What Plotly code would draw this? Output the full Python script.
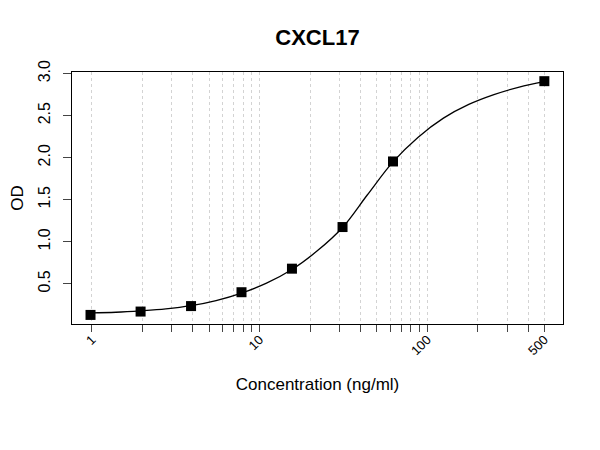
import plotly.graph_objects as go
import math

# Standard points (concentration ng/ml, OD)
conc = [0.98, 1.95, 3.9, 7.8, 15.6, 31.25, 62.5, 500]
od = [0.13, 0.17, 0.235, 0.40, 0.68, 1.175, 1.955, 2.91]

# Fitted curve
curve_x = [0.98, 1.39, 1.95, 2.76, 3.9, 5.5, 7.8, 11, 15.6, 22, 31.25, 44,
           62.5, 88, 125, 177, 250, 354, 500]
curve_y = [0.155, 0.162, 0.178, 0.201, 0.24, 0.301, 0.39, 0.508, 0.67,
           0.889, 1.17, 1.559, 1.95, 2.241, 2.47, 2.633, 2.75, 2.84, 2.905]

x_ticks = [1, 2, 3, 4, 5, 6, 7, 8, 9, 10, 20, 30, 40, 50, 60, 70, 80, 90,
           100, 200, 300, 400, 500]
x_labels = ["1", "", "", "", "", "", "", "", "", "10", "", "", "", "", "",
            "", "", "", "100", "", "", "", "500"]
y_ticks = [0.5, 1.0, 1.5, 2.0, 2.5, 3.0]
y_labels = ["0.5", "1.0", "1.5", "2.0", "2.5", "3.0"]

FONT = "Liberation Sans, Arial, sans-serif"

fig = go.Figure()
fig.add_trace(go.Scatter(x=curve_x, y=curve_y, mode="lines",
                         line=dict(color="black", width=1.3, shape="spline"),
                         hoverinfo="skip", showlegend=False))
fig.add_trace(go.Scatter(x=conc, y=od, mode="markers",
                         marker=dict(symbol="square", size=10, color="black"),
                         showlegend=False))

fig.update_layout(
    width=592, height=442,
    margin=dict(l=64, r=37, t=64, b=126, autoexpand=False),
    paper_bgcolor="white", plot_bgcolor="white",
    font=dict(family=FONT, color="black"),
    title=dict(text="<b>CXCL17</b>", x=(309.5 / 592), xanchor="center",
               y=1 - 29 / 442, yanchor="middle",
               font=dict(size=22, color="black")),
    xaxis=dict(type="log", range=[math.log10(0.76), math.log10(646)],
               tickvals=x_ticks, ticktext=x_labels, tickangle=-45,
               tickfont=dict(size=13), ticks="outside", ticklen=7,
               tickcolor="#444", showgrid=True, gridcolor="#d3d3d3",
               griddash="dot", gridwidth=1, showline=True, linecolor="black",
               linewidth=1, mirror=True, zeroline=False, automargin=False,
               ticklabelstandoff=-5,
               title=dict(text="Concentration (ng/ml)", font=dict(size=17),
                          standoff=20)),
    yaxis=dict(range=[0.022, 3.019], tickvals=y_ticks, ticktext=y_labels,
               tickangle=-90, tickfont=dict(size=16), ticks="outside",
               ticklen=8, tickcolor="#444", showgrid=False, showline=True,
               linecolor="black", linewidth=1, mirror=True, zeroline=False,
               ticklabelstandoff=7, automargin=False,
               title=dict(text="OD", font=dict(size=17), standoff=25)),
)

fig.write_html("out.html")
